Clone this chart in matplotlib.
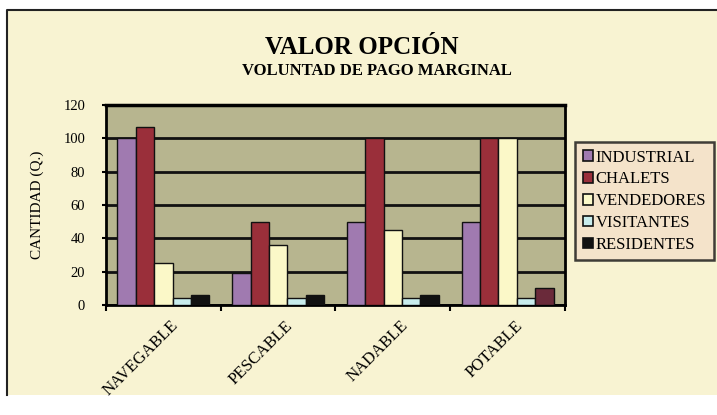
import numpy as np
import matplotlib.pyplot as plt
from matplotlib.patches import Rectangle, Patch
from matplotlib.lines import Line2D

categories = ["NAVEGABLE", "PESCABLE", "NADABLE", "POTABLE"]
series_names = ["INDUSTRIAL", "CHALETS", "VENDEDORES", "VISITANTES", "RESIDENTES"]
industrial = [100, 19, 50, 50]
chalets = [107, 50, 100, 100]
vendedores = [25, 36, 45, 100]
visitantes = [4, 4, 4, 4]
residentes = [6, 6, 6, 10]
yticks = [0, 20, 40, 60, 80, 100, 120]

colors = ["#a07ab0", "#9a2f3a", "#fbf8c8", "#c8ecec", "#111111"]
serif = ["Liberation Serif", "DejaVu Serif"]

W, H = 717, 415
fig = plt.figure(figsize=(W / 100, H / 100), dpi=100, facecolor="white")

# cream chart background with top/left frame
fig.patches.append(Rectangle((7 / W, 1 - 395 / H), 1, 385 / H, transform=fig.transFigure,
                             facecolor="#f8f3d2", edgecolor="none", zorder=-5))
fig.lines.append(Line2D([7 / W, 7 / W, 1], [1 - 395 / H, 1 - 10 / H, 1 - 10 / H],
                        transform=fig.transFigure, color="#222222", lw=1.5, zorder=-4))

ax = fig.add_axes([106 / W, 1 - 305 / H, (565 - 106) / W, 200 / H])
ax.set_zorder(2)
ax.set_facecolor("#b7b58f")

x = np.arange(len(categories))
width = 0.16
all_series = [industrial, chalets, vendedores, visitantes, residentes]
for i, (name, vals) in enumerate(zip(series_names, all_series)):
    bar_colors = [colors[i]] * len(vals)
    if name == "RESIDENTES":
        bar_colors[3] = "#6a2a3a"
    ax.bar(x - 0.32 + i * width, vals, width, color=bar_colors, edgecolor="#111111",
           linewidth=1.0, zorder=3)

ax.set_xlim(-0.5, 3.5)
ax.set_ylim(0, 120)
ax.set_yticks(yticks)
ax.set_yticklabels([str(t) for t in yticks], family=serif, fontsize=10.5)
ax.yaxis.grid(True, color="#111111", lw=2, zorder=1)
ax.set_xticks(np.arange(-0.5, 4, 1))
ax.set_xticklabels([])
# rotated labels anchored a little right of each group centre
ax.set_xticks(x + 0.06, minor=True)
ax.set_xticklabels(categories, minor=True, rotation=45, ha="right", va="top",
                   rotation_mode="anchor", family=serif, fontsize=12)
ax.tick_params(axis="x", which="minor", length=0, pad=9)
ax.tick_params(axis="x", which="major", direction="out", length=4, width=1.5)
ax.tick_params(axis="y", direction="out", length=3, width=1.5, pad=12)
for side in ["left", "bottom", "right"]:
    ax.spines[side].set_linewidth(2)
ax.spines["top"].set_linewidth(2.5)
ax.set_ylabel("CANTIDAD (Q.)", family=serif, fontsize=11, labelpad=14)

fig.text(362 / W, 1 - 47 / H, "VALOR OPCIÓN", ha="center", va="center",
         family=serif, fontsize=18, fontweight="bold")
fig.text(377 / W, 1 - 71 / H, "VOLUNTAD DE PAGO MARGINAL", ha="center", va="center",
         family=serif, fontsize=12, fontweight="bold")

handles = [Patch(facecolor=c, edgecolor="#111111", linewidth=1.2) for c in colors]
leg = fig.legend(handles, series_names, loc="upper left",
                 bbox_to_anchor=(575 / W, 1 - 142 / H), frameon=True, fancybox=False,
                 prop={"family": serif, "size": 12}, handlelength=0.6, handleheight=0.6,
                 handletextpad=0.2, labelspacing=0.35, borderpad=0.45, borderaxespad=0)
leg.get_frame().set_facecolor("#f4dfc8")
leg.get_frame().set_edgecolor("#111111")
leg.get_frame().set_linewidth(1.8)

fig.savefig("out.png", dpi=100, facecolor=fig.get_facecolor())
